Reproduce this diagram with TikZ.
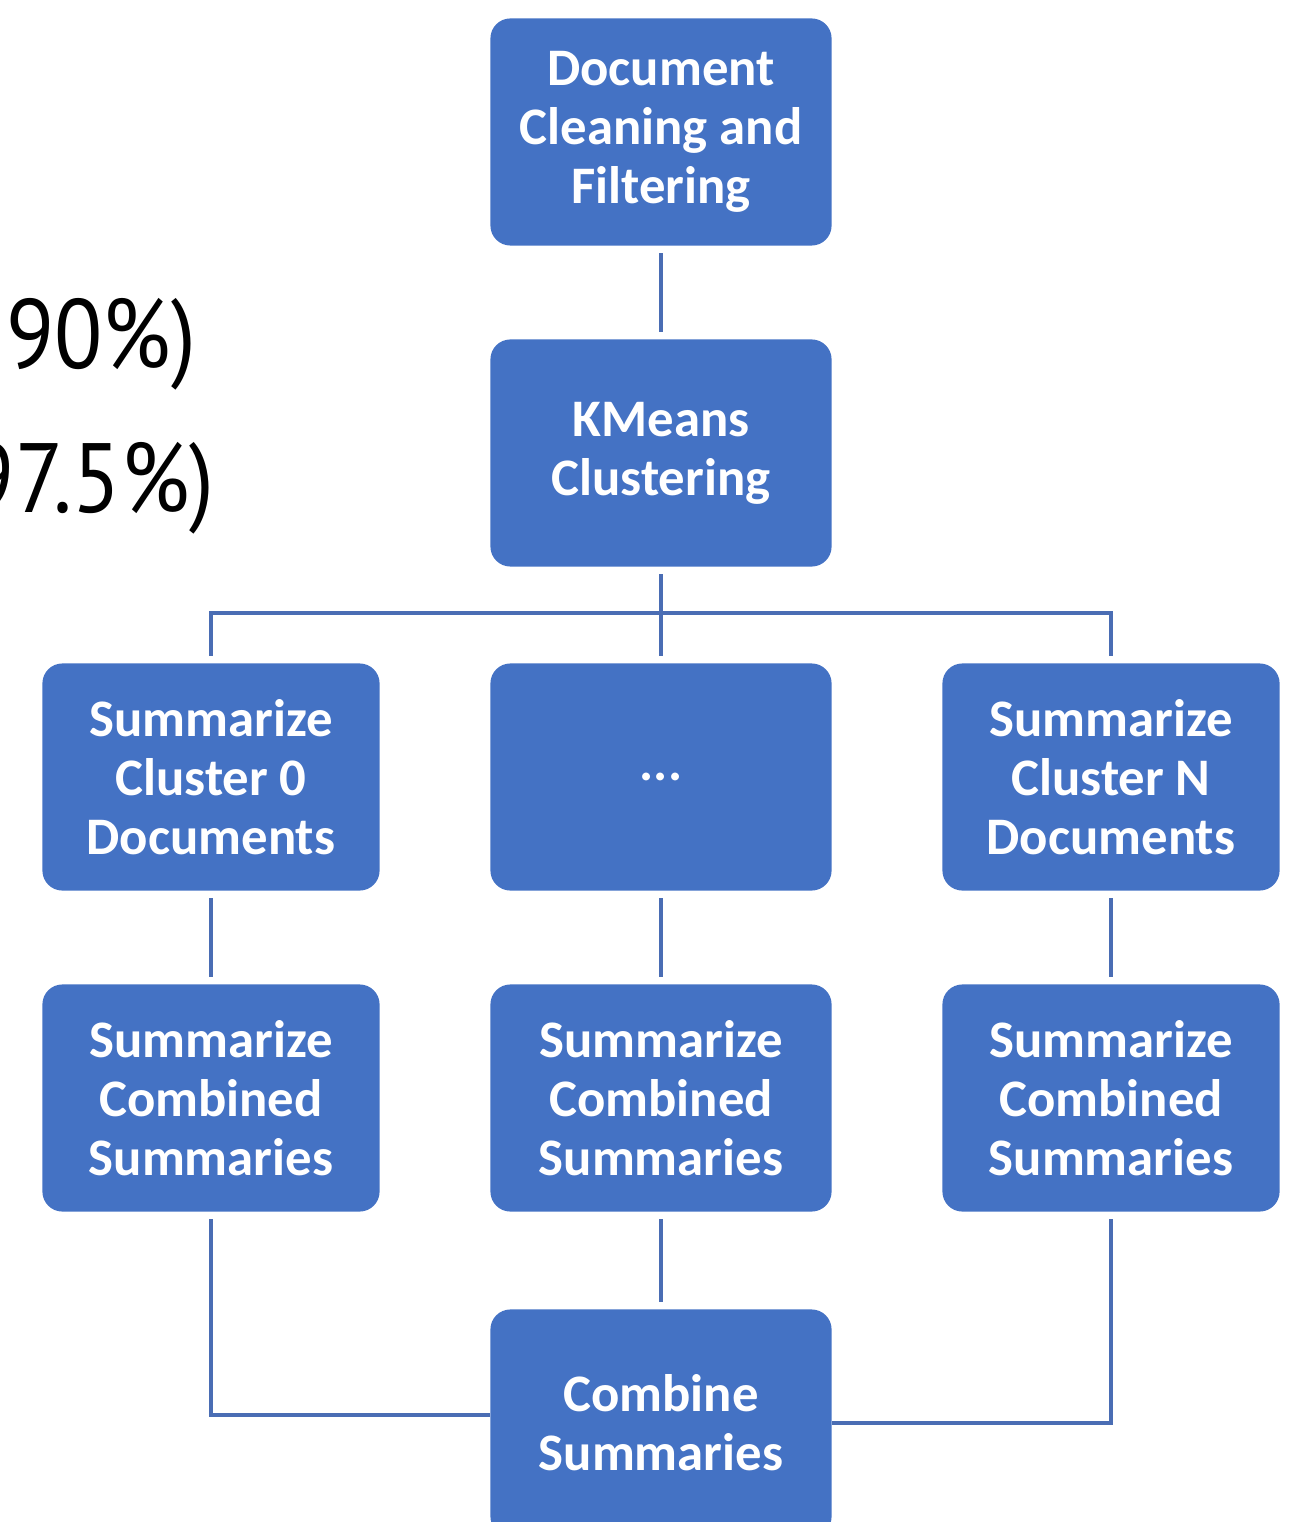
\documentclass[tikz,border=0pt]{standalone}
\usepackage{fontspec}
\setmainfont{Carlito}
\newfontfamily\notefont{PT Sans}
\definecolor{boxblue}{HTML}{4472C4}
\definecolor{lineblue}{HTML}{4A6DB4}

\begin{document}
\begin{tikzpicture}[x=0.01cm,y=-0.01cm,
    stage/.style={fill=boxblue, rounded corners=0.2cm, text=white, align=center,
        minimum width=3.41cm, minimum height=2.27cm, inner sep=0pt,
        font=\bfseries\fontsize{15}{16.8}\selectfont},
    side/.style={stage, minimum width=3.37cm},
    link/.style={draw=lineblue, line width=1.1pt, shorten <=2pt, shorten >=2pt},
    note/.style={anchor=base east, inner sep=0pt, font=\notefont\fontsize{28}{32}\selectfont}]
    \path[use as bounding box, clip] (0,0) rectangle (1291,1522);

    \node[note] (upper) at (197,369) {\scalebox{0.9}[1]{y 90\%)}};
    \node[note] (lower) at (215,512) {\scalebox{0.9}[1]{97.5\%)}};

    \node[stage] (clean) at (661,132) {Document\\Cleaning and\\Filtering};
    \node[stage] (kmeans) at (661,453) {KMeans\\Clustering};
    \node[side] (sum0) at (211,777) {Summarize\\Cluster 0\\Documents};
    \node[stage] (dots) at (661,777) {...};
    \node[side] (sumN) at (1111,777) {Summarize\\Cluster N\\Documents};
    \node[side] (comb0) at (211,1098) {Summarize\\Combined\\Summaries};
    \node[stage] (combmid) at (661,1098) {Summarize\\Combined\\Summaries};
    \node[side] (combN) at (1111,1098) {Summarize\\Combined\\Summaries};
    \node[stage] (combine) at (661,1423) {Combine\\Summaries};
    \coordinate (bus) at (661,613);

    \draw[link] (clean) -- (kmeans);
    \draw[link] (kmeans) -- (dots);
    \draw[link] (sum0) |- (bus) -| (sumN);
    \draw[link] (sum0) -- (comb0);
    \draw[link] (dots) -- (combmid);
    \draw[link] (sumN) -- (combN);
    \draw[link] (combmid) -- (combine);
    \draw[link, shorten >=0pt] (comb0) |- ([yshift=0.08cm]combine.west);
    \draw[link, shorten >=0pt] (combN) |- (combine);
\end{tikzpicture}
\end{document}
